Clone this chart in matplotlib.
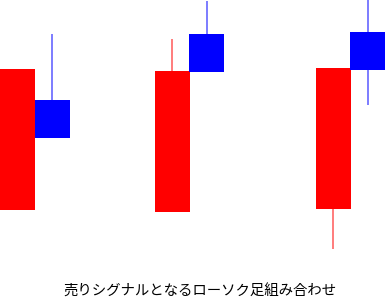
import matplotlib
matplotlib.use("Agg")
import matplotlib.pyplot as plt

plt.rcParams['font.family'] = ['Noto Sans CJK JP', 'DejaVu Sans']

# candle data (price axis, up = higher), two candles per pattern
x_pos = [17, 52, 172, 206.5, 333, 367.5]
opens = [90, 200, 88, 266, 91, 268]
closes = [231, 162, 229, 228, 232, 230]
highs = [231, 266, 261, 299, 232, 300]
lows = [90, 162, 88, 228, 51, 195]
colors = ['red', 'blue', 'red', 'blue', 'red', 'blue']
wick_colors = ['#ff6666', '#6666ff', '#ff6666', '#6666ff', '#ff6666', '#6666ff']
caption = '売りシグナルとなるローソク足組み合わせ'

fig = plt.figure(figsize=(3.85, 3.0), dpi=100)
ax = fig.add_axes([0, 0, 1, 1])
ax.set_xlim(0, 385)
ax.set_ylim(0, 300)
ax.axis('off')

width = 35
for x, o, c, h, l, col, wc in zip(x_pos, opens, closes, highs, lows, colors, wick_colors):
    lo, hi = min(o, c), max(o, c)
    # only draw the parts of the wick outside the body
    if h > hi:
        ax.plot([x, x], [hi, h], color=wc, lw=1.2, solid_capstyle='butt', zorder=1)
    if l < lo:
        ax.plot([x, x], [l, lo], color=wc, lw=1.2, solid_capstyle='butt', zorder=1)
    ax.bar(x, hi - lo, bottom=lo, width=width, color=col, zorder=2)

ax.text(200, 8.5, caption, ha='center', va='center', fontsize=10.4, color='black')

fig.savefig('out.png', dpi=100)
